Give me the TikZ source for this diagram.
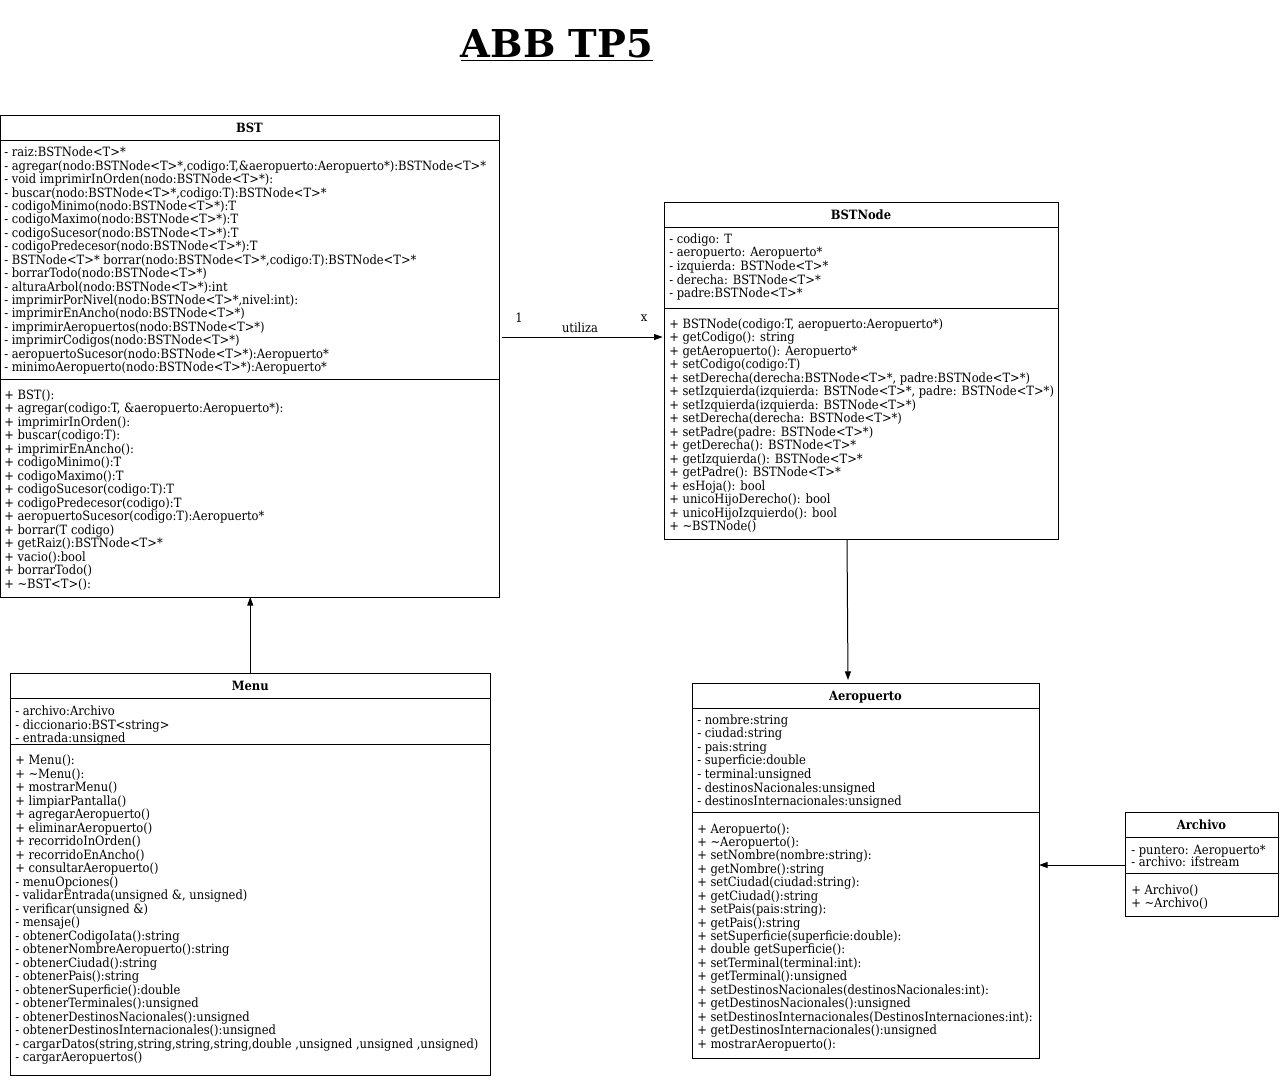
\documentclass[tikz,border=0pt]{standalone}
\usepackage{fontspec}
\setmainfont{DejaVu Serif Condensed}
\newfontfamily\titlefont{DejaVu Serif}
\usetikzlibrary{arrows.meta}
\newcommand\titleul[1]{\setbox0\hbox{#1}\rlap{\rule[-3.2pt]{\wd0}{1.3pt}}\box0}
\newcommand\umllines[5]{%
  \foreach \umlitem [count=\umlidx] in {#5} {
    \node[umltxt] (#1-\umlidx) at (#2, {#3+(\umlidx-1)*#4}) {\umlitem};
  }}
\tikzset{
  umlbox/.style={draw, line width=0.75pt, anchor=north west, inner sep=0pt, outer sep=0pt},
  umlsep/.style={line width=0.75pt},
  umltxt/.style={anchor=base west, inner sep=0pt, font=\fontsize{9.6pt}{10pt}\selectfont},
  umlhead/.style={anchor=base, inner sep=0pt, font=\fontsize{9.6pt}{10pt}\selectfont\bfseries},
  lbl/.style={anchor=base, inner sep=0pt, font=\fontsize{9.6pt}{10pt}\selectfont},
  conn/.style={line width=0.75pt, -{Triangle[length=6.5pt,width=4.5pt]}},
}
\begin{document}
\begin{tikzpicture}[x=0.75pt, y=-0.75pt]
\useasboundingbox (0,0) rectangle (1280,1079);

% title
\node[anchor=base, inner sep=0pt, font=\titlefont\bfseries\fontsize{28.8pt}{32pt}\selectfont] (title) at (557,57) {\titleul{ABB TP5}};

% BST
\node[umlbox, minimum width={499*0.75pt}, minimum height={482*0.75pt}] (bst) at (0,115) {};
\draw[umlsep] (0,140) -- (499,140);
\draw[umlsep] (0,379.5) -- (499,379.5);
\node[umlhead] (bst-h) at (249.5,132.5) {BST};
\umllines{bsta}{4}{156.7}{13.44}{
  {- raiz:BSTNode<T>*},
  {- agregar(nodo:BSTNode<T>*,codigo:T,\&aeropuerto:Aeropuerto*):BSTNode<T>*},
  {- void imprimirInOrden(nodo:BSTNode<T>*):},
  {- buscar(nodo:BSTNode<T>*,codigo:T):BSTNode<T>*},
  {- codigoMinimo(nodo:BSTNode<T>*):T},
  {- codigoMaximo(nodo:BSTNode<T>*):T},
  {- codigoSucesor(nodo:BSTNode<T>*):T},
  {- codigoPredecesor(nodo:BSTNode<T>*):T},
  {- BSTNode<T>* borrar(nodo:BSTNode<T>*,codigo:T):BSTNode<T>*},
  {- borrarTodo(nodo:BSTNode<T>*)},
  {- alturaArbol(nodo:BSTNode<T>*):int},
  {- imprimirPorNivel(nodo:BSTNode<T>*,nivel:int):},
  {- imprimirEnAncho(nodo:BSTNode<T>*)},
  {- imprimirAeropuertos(nodo:BSTNode<T>*)},
  {- imprimirCodigos(nodo:BSTNode<T>*)},
  {- aeropuertoSucesor(nodo:BSTNode<T>*):Aeropuerto*},
  {- minimoAeropuerto(nodo:BSTNode<T>*):Aeropuerto*}}
\umllines{bstm}{4}{399}{13.5}{
  {+ BST():},
  {+ agregar(codigo:T, \&aeropuerto:Aeropuerto*):},
  {+ imprimirInOrden():},
  {+ buscar(codigo:T):},
  {+ imprimirEnAncho():},
  {+ codigoMinimo():T},
  {+ codigoMaximo():T},
  {+ codigoSucesor(codigo:T):T},
  {+ codigoPredecesor(codigo):T},
  {+ aeropuertoSucesor(codigo:T):Aeropuerto*},
  {+ borrar(T codigo)},
  {+ getRaiz():BSTNode<T>*},
  {+ vacio():bool},
  {+ borrarTodo()},
  {+ \textasciitilde BST<T>():}}

% BSTNode
\node[umlbox, minimum width={394*0.75pt}, minimum height={337*0.75pt}] (bstnode) at (664,202) {};
\draw[umlsep] (664,227) -- (1058,227);
\draw[umlsep] (664,308) -- (1058,308);
\node[umlhead] (bstnode-h) at (861,219.5) {BSTNode};
\umllines{nodea}{669}{243.3}{13.6}{
  {- codigo: T},
  {- aeropuerto: Aeropuerto*},
  {- izquierda: BSTNode<T>*},
  {- derecha: BSTNode<T>*},
  {- padre:BSTNode<T>*}}
\umllines{nodem}{669}{328.3}{13.49}{
  {+ BSTNode(codigo:T, aeropuerto:Aeropuerto*)},
  {+ getCodigo(): string},
  {+ getAeropuerto(): Aeropuerto*},
  {+ setCodigo(codigo:T)},
  {+ setDerecha(derecha:BSTNode<T>*, padre:BSTNode<T>*)},
  {+ setIzquierda(izquierda: BSTNode<T>*, padre: BSTNode<T>*)},
  {+ setIzquierda(izquierda: BSTNode<T>*)},
  {+ setDerecha(derecha: BSTNode<T>*)},
  {+ setPadre(padre: BSTNode<T>*)},
  {+ getDerecha(): BSTNode<T>*},
  {+ getIzquierda(): BSTNode<T>*},
  {+ getPadre(): BSTNode<T>*},
  {+ esHoja(): bool},
  {+ unicoHijoDerecho(): bool},
  {+ unicoHijoIzquierdo(): bool},
  {+ \textasciitilde BSTNode()}}

% Menu
\node[umlbox, minimum width={480.5*0.75pt}, minimum height={402*0.75pt}] (menu) at (10,673) {};
\draw[umlsep] (10,698.5) -- (490.5,698.5);
\draw[umlsep] (10,744) -- (490.5,744);
\node[umlhead] (menu-h) at (250.25,690.5) {Menu};
\umllines{menua}{15}{715.7}{13.3}{
  {- archivo:Archivo},
  {- diccionario:BST<string>},
  {- entrada:unsigned}}
\umllines{menum}{15}{764.7}{13.5}{
  {+ Menu():},
  {+ \textasciitilde Menu():},
  {+ mostrarMenu()},
  {+ limpiarPantalla()},
  {+ agregarAeropuerto()},
  {+ eliminarAeropuerto()},
  {+ recorridoInOrden()},
  {+ recorridoEnAncho()},
  {+ consultarAeropuerto()},
  {- menuOpciones()},
  {- validarEntrada(unsigned \&, unsigned)},
  {- verificar(unsigned \&)},
  {- mensaje()},
  {- obtenerCodigoIata():string},
  {- obtenerNombreAeropuerto():string},
  {- obtenerCiudad():string},
  {- obtenerPais():string},
  {- obtenerSuperficie():double},
  {- obtenerTerminales():unsigned},
  {- obtenerDestinosNacionales():unsigned},
  {- obtenerDestinosInternacionales():unsigned},
  {- cargarDatos(string,string,string,string,double ,unsigned ,unsigned ,unsigned)},
  {- cargarAeropuertos()}}

% Aeropuerto
\node[umlbox, minimum width={347*0.75pt}, minimum height={375*0.75pt}] (aero) at (692,683) {};
\draw[umlsep] (692,708) -- (1039,708);
\draw[umlsep] (692,812) -- (1039,812);
\node[umlhead] (aero-h) at (865.5,700) {Aeropuerto};
\umllines{aeroa}{697}{724}{13.6}{
  {- nombre:string},
  {- ciudad:string},
  {- pais:string},
  {- superficie:double},
  {- terminal:unsigned},
  {- destinosNacionales:unsigned},
  {- destinosInternacionales:unsigned}}
\umllines{aerom}{697}{833}{13.44}{
  {+ Aeropuerto():},
  {+ \textasciitilde Aeropuerto():},
  {+ setNombre(nombre:string):},
  {+ getNombre():string},
  {+ setCiudad(ciudad:string):},
  {+ getCiudad():string},
  {+ setPais(pais:string):},
  {+ getPais():string},
  {+ setSuperficie(superficie:double):},
  {+ double getSuperficie():},
  {+ setTerminal(terminal:int):},
  {+ getTerminal():unsigned},
  {+ setDestinosNacionales(destinosNacionales:int):},
  {+ getDestinosNacionales():unsigned},
  {+ setDestinosInternacionales(DestinosInternaciones:int):},
  {+ getDestinosInternacionales():unsigned},
  {+ mostrarAeropuerto():}}

% Archivo
\node[umlbox, minimum width={153*0.75pt}, minimum height={104*0.75pt}] (archivo) at (1125,812.5) {};
\draw[umlsep] (1125,837) -- (1278,837);
\draw[umlsep] (1125,873.5) -- (1278,873.5);
\node[umlhead] (archivo-h) at (1201.5,829) {Archivo};
\umllines{archa}{1131}{854}{12.8}{
  {- puntero: Aeropuerto*},
  {- archivo: ifstream}}
\umllines{archm}{1131}{894}{13.5}{
  {+ Archivo()},
  {+ \textasciitilde Archivo()}}

% connectors
\coordinate (u1) at (502,337);
\draw[conn, shorten >=1pt] (u1) -- (u1 -| bstnode.west);
\node[lbl] (m1) at (519,322) {1};
\node[lbl] (mx) at (644,321) {x};
\node[lbl] (ut) at (580,332) {utiliza};

\draw[conn] (menu.north) -- (menu.north |- bst.south);

\coordinate (n1) at (847,539);
\coordinate (n2) at (848,680);
\draw[conn] (n1) -- (n2);

\coordinate (a1) at (1125,865);
\draw[conn] (a1) -- (a1 -| aero.east);
\end{tikzpicture}
\end{document}
